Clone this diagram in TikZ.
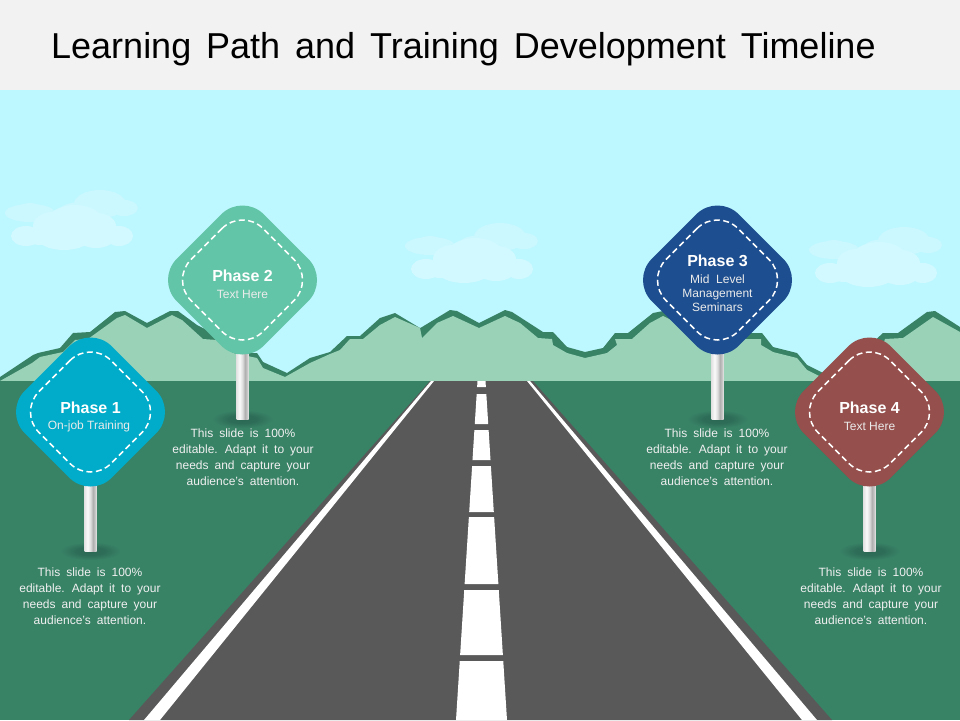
\documentclass[tikz,border=0pt]{standalone}
\usepackage{fontspec}
\setmainfont{Liberation Sans}
\definecolor{sky}{HTML}{BDF7FF}
\definecolor{band}{HTML}{F2F2F2}
\definecolor{ground}{HTML}{388266}
\definecolor{hill}{HTML}{9AD2B8}
\definecolor{roadgrey}{HTML}{595959}
\definecolor{cloudback}{HTML}{CBF8FF}
\definecolor{cloudfront}{HTML}{D2F9FF}
\definecolor{signa}{HTML}{00ACC9}
\definecolor{signb}{HTML}{63C5A7}
\definecolor{signc}{HTML}{1D4E8F}
\definecolor{signd}{HTML}{954F4C}
\definecolor{shadowdark}{HTML}{2B6854}
\definecolor{poleA}{HTML}{E4E4E4}
\definecolor{poleB}{HTML}{FAFAFA}
\definecolor{poleC}{HTML}{DDDDDD}
\definecolor{poleD}{HTML}{B0B0B0}
\definecolor{poleE}{HTML}{C4C4C4}
\definecolor{poleF}{HTML}{E6E6E6}
\pgfdeclarehorizontalshading{poleshade}{100bp}{
  color(0bp)=(poleA); color(25bp)=(poleA); color(38bp)=(poleB); color(50bp)=(poleC);
  color(60bp)=(poleD); color(68bp)=(poleE); color(75bp)=(poleF); color(100bp)=(poleF)}
\pgfdeclareradialshading{groundshadow}{\pgfpoint{0bp}{0bp}}{
  color(0bp)=(shadowdark); color(12bp)=(shadowdark!80!ground); color(25bp)=(ground); color(50bp)=(ground)}
\newcommand{\titlefontset}{\fontsize{36}{40}\selectfont\spaceskip=0.415em\relax}
\newcommand{\bodyfontset}{\fontsize{12}{16}\selectfont\spaceskip=0.5em\relax}
\tikzset{
  titletext/.style={anchor=base west,inner sep=0pt,text=black,font=\titlefontset},
  phasetext/.style={inner sep=0pt,text=white,font=\fontsize{16}{18}\selectfont\bfseries},
  subtext/.style={inner sep=0pt,text=white!92!black,align=center,font=\fontsize{12}{14}\selectfont},
  bodytext/.style={inner sep=0pt,text=white!94!black,align=center,font=\bodyfontset},
  dashring/.style={draw=white,line width=1.5pt,dash pattern=on 6pt off 3.5pt},
  roadmark/.style={fill=white},
}
% a diamond with true circular corners: half-width #2, corner radius #3
\newcommand{\rounddiamond}[3]{%
  \pgfmathsetmacro{\dd}{#2-#3}%
  \pgfmathsetmacro{\tt}{#3*0.70711}%
  \path[#1] (-\tt,-\dd-\tt) arc[start angle=135,end angle=45,radius=#3pt]
    -- ({\dd+\tt},-\tt) arc[start angle=45,end angle=-45,radius=#3pt]
    -- (\tt,{\dd+\tt}) arc[start angle=-45,end angle=-135,radius=#3pt]
    -- ({-\dd-\tt},\tt) arc[start angle=-135,end angle=-225,radius=#3pt]
    -- cycle;}
\newcommand{\cloudgroup}[2]{%
  \begin{scope}[shift={(#1,#2)}]
    \fill[cloudback] (30,213) ellipse [x radius=25pt,y radius=9pt];
    \fill[cloudback] (30,208) ellipse [x radius=11pt,y radius=5pt];
    \fill[cloudback] (100,204) ellipse [x radius=26pt,y radius=14pt];
    \fill[cloudback] (124,208) ellipse [x radius=14pt,y radius=8pt];
    \fill[cloudback] (82,210) ellipse [x radius=22pt,y radius=8pt];
    \fill[cloudfront] (26,236) ellipse [x radius=15pt,y radius=10pt];
    \fill[cloudfront] (53,226) ellipse [x radius=20pt,y radius=14pt];
    \fill[cloudfront] (75,222) ellipse [x radius=28pt,y radius=17pt];
    \fill[cloudfront] (96,226) ellipse [x radius=20pt,y radius=13pt];
    \fill[cloudfront] (64,236) ellipse [x radius=28pt,y radius=14pt];
    \fill[cloudfront] (96,236) ellipse [x radius=20pt,y radius=12pt];
    \fill[cloudfront] (119,236) ellipse [x radius=14pt,y radius=10pt];
    \fill[cloudfront] (40,236) ellipse [x radius=15pt,y radius=9pt];
  \end{scope}}
\newcommand{\roadsign}[3]{%
  \begin{scope}[shift={(#1,#2)}]
    \shade[shading=groundshadow] (0,139) ellipse [x radius=30pt,y radius=9pt];
    \shade[shading=poleshade] (-6,70) rectangle (6,139);
    \rounddiamond{fill=#3}{74.5}{30}
    \rounddiamond{dashring}{60}{29}
  \end{scope}}
\begin{document}
\begin{tikzpicture}[x=1pt,y=-1pt]
\useasboundingbox (0,0) rectangle (960,720);
\fill[sky] (0,0) rectangle (960,720);
\fill[band] (0,0) rectangle (960,90);
\cloudgroup{0}{0}
\cloudgroup{400}{33}
\cloudgroup{804}{37}
% hills: dark crest
\fill[ground] (0,381) -- (0,377) -- (33,355) -- (38,353) -- (60,348) -- (73,333) -- (90,332) -- (115,312) -- (125,311) -- (147,323) -- (170,311) -- (178,311) -- (197,325) -- (213,333) -- (220,340) -- (250,353) -- (257,353) -- (263,362) -- (287,373) -- (310,358) -- (330,352) -- (347,336) -- (360,336) -- (380,318) -- (395,313) -- (420,328) -- (422,327) -- (450,310) -- (457,311) -- (479,323) -- (505,310) -- (512,312) -- (543,332) -- (553,332) -- (567,347) -- (585,352) -- (603,348) -- (615,333) -- (628,333) -- (653,313) -- (663,311) -- (677,318) -- (700,333) -- (747,333) -- (762,333) -- (773,347) -- (797,353) -- (807,365) -- (823,373) -- (847,360) -- (870,345) -- (883,333) -- (898,333) -- (927,312) -- (935,311) -- (960,327) -- (960,381) -- cycle;
% hills: light body
\fill[hill] (0,381) -- (32,363) -- (40,357) -- (63,352) -- (75,340) -- (88,339) -- (117,318) -- (125,315) -- (147,328) -- (172,315) -- (182,320) -- (203,339) -- (217,340) -- (233,353) -- (257,358) -- (263,368) -- (285,377) -- (310,363) -- (330,354) -- (340,350) -- (350,339) -- (363,339) -- (380,325) -- (395,317) -- (420,328) -- (422,338) -- (437,323) -- (453,316) -- (479,328) -- (505,316) -- (520,323) -- (538,338) -- (552,339) -- (553,345) -- (567,353) -- (585,358) -- (607,353) -- (617,345) -- (615,339) -- (632,339) -- (650,323) -- (663,316) -- (677,323) -- (700,339) -- (761,339) -- (761,345) -- (773,352) -- (797,358) -- (807,370) -- (823,378) -- (847,365) -- (870,350) -- (883,345) -- (885,339) -- (903,338) -- (933,317) -- (960,332) -- (960,381) -- cycle;
\fill[ground] (0,381) rectangle (960,720);
% road
\fill[roadgrey] (430,381) -- (533,381) -- (832,720) -- (129,720) -- cycle;
\fill[roadmark] (431,381) -- (434,381) -- (160,720) -- (144,720) -- cycle;
\fill[roadmark] (527,381) -- (530,381) -- (817,720) -- (802,720) -- cycle;
\foreach \ya/\yb in {381/387,394/424,430/460,466/512,517/584,590/655,661/720}{
  \pgfmathsetmacro{\ha}{4+(\ya-381)*0.0634}
  \pgfmathsetmacro{\hb}{4+(\yb-381)*0.0634}
  \fill[roadmark] ({481.5-\ha},\ya) -- ({481.5+\ha},\ya) -- ({481.5+\hb},\yb) -- ({481.5-\hb},\yb) -- cycle;
}
% signs
\roadsign{242.5}{280}{signb}
\roadsign{90.5}{412}{signa}
\roadsign{717.5}{280}{signc}
\roadsign{869.5}{412}{signd}
% texts
\node[titletext] (title) at (51,58) {Learning Path and Training Development Timeline};
\node[phasetext] (p2) at (242.5,276) {Phase 2};
\node[subtext] (s2) at (242.5,294) {Text Here};
\node[phasetext] (p1) at (90.5,408) {Phase 1};
\node[subtext] (s1) at (89,426) {On-job Training};
\node[phasetext] (p3) at (717.5,261) {Phase 3};
\node[subtext] (s3) at (717.5,293) {Mid\ \ Level\\Management\\Seminars};
\node[phasetext] (p4) at (869.5,408) {Phase 4};
\node[subtext] (s4) at (869.5,426) {Text Here};
\node[bodytext] (b2) at (243,457) {This slide is 100\%\\editable. Adapt it to your\\needs and capture your\\audience's attention.};
\node[bodytext] (b1) at (90,596) {This slide is 100\%\\editable. Adapt it to your\\needs and capture your\\audience's attention.};
\node[bodytext] (b3) at (717,457) {This slide is 100\%\\editable. Adapt it to your\\needs and capture your\\audience's attention.};
\node[bodytext] (b4) at (871,596) {This slide is 100\%\\editable. Adapt it to your\\needs and capture your\\audience's attention.};
\end{tikzpicture}
\end{document}
